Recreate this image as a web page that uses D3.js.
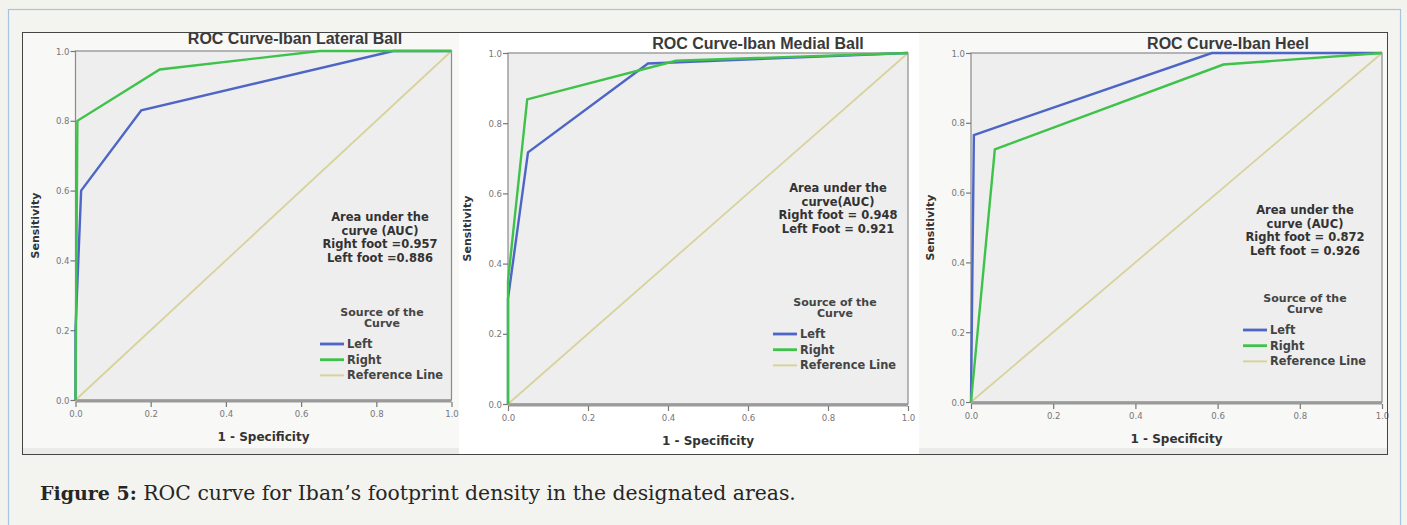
<!DOCTYPE html>
<html>
<head>
<meta charset="utf-8">
<script src="https://cdn.jsdelivr.net/npm/d3@7"></script>
<style>
  body { margin: 0; background: #f3f3ee; }
  svg text { font-family: "DejaVu Sans", sans-serif; }
</style>
</head>
<body>
<div id="chart"></div>
<script>
// ---- data ----
var titles = [
  "ROC Curve-Iban Lateral Ball",
  "ROC Curve-Iban Medial Ball",
  "ROC Curve-Iban Heel"
];

// [1 - specificity, sensitivity]
var lateralLeft  = [[0, 0], [0, 0.2], [0.015, 0.6], [0.175, 0.83], [0.845, 1], [1, 1]];
var lateralRight = [[0, 0], [0.005, 0.8], [0.224, 0.947], [0.65, 1], [1, 1]];
var medialLeft   = [[0, 0], [0, 0.3], [0.05, 0.717], [0.35, 0.97], [1, 1]];
var medialRight  = [[0, 0], [0, 0.35], [0.048, 0.868], [0.42, 0.978], [1, 1]];
var heelLeft     = [[0, 0], [0.007, 0.765], [0.586, 1], [1, 1]];
var heelRight    = [[0, 0], [0.058, 0.724], [0.614, 0.967], [1, 1]];
var referenceLine = [[0, 0], [1, 1]];

var aucText = [
  ["Area under the", "curve (AUC)", "Right foot =0.957", "Left foot =0.886"],
  ["Area under the", "curve(AUC)", "Right foot = 0.948", "Left Foot = 0.921"],
  ["Area under the", "curve (AUC)", "Right foot = 0.872", "Left foot = 0.926"]
];

var tickValues = [0, 0.2, 0.4, 0.6, 0.8, 1.0];
var legendNames = ["Left", "Right", "Reference Line"];
var seriesColors = ["#4d66c6", "#3ec24a", "#d8d29c"];

// ---- layout (pixel boxes for each panel) ----
var layout = [
  { bx: 23,  bw: 436, x0: 75.5, x1: 451.5, yTop: 51, yBot: 400, auc: [380, 217], leg: [320, 312], titleY: 44, titleX: 295 },
  { bx: 459, bw: 460, x0: 508,  x1: 908,   yTop: 53, yBot: 404, auc: [838, 188], leg: [773, 302], titleY: 49, titleX: 758 },
  { bx: 919, bw: 468, x0: 971,  x1: 1382,  yTop: 53, yBot: 402, auc: [1305, 210], leg: [1243, 298], titleY: 49, titleX: 1228 }
];
var bgs = ["#f8f8f7", "#ffffff", "#f8f8f7"];
var curves = [
  [lateralLeft, lateralRight],
  [medialLeft, medialRight],
  [heelLeft, heelRight]
];

var W = 1407, H = 525;

var svg = d3.select("#chart")
  .append("svg")
  .attr("width", W)
  .attr("height", H);

// page frame
svg.append("rect")
  .attr("x", 0).attr("y", 0).attr("width", W).attr("height", H)
  .attr("fill", "#f3f3ee");
svg.append("rect")
  .attr("x", 8.5).attr("y", 9.5).attr("width", 1392).attr("height", 530)
  .attr("fill", "#f3f4ef")
  .attr("stroke", "#a7c2e2")
  .attr("stroke-width", 1.2);

// figure box
svg.append("rect")
  .attr("x", 22.5).attr("y", 32.5).attr("width", 1365).attr("height", 422)
  .attr("fill", "#ffffff");

layout.forEach(function(L, i) {
  var g = svg.append("g");

  g.append("rect")
    .attr("x", L.bx).attr("y", 33).attr("width", L.bw).attr("height", 421)
    .attr("fill", bgs[i]);
  if (i != 1) {
    g.append("rect")
      .attr("x", L.bx).attr("y", 448).attr("width", L.bw).attr("height", 6)
      .attr("fill", "#ebebe8");
  }

  var x = d3.scaleLinear().domain([0, 1]).range([L.x0, L.x1]);
  var y = d3.scaleLinear().domain([0, 1]).range([L.yBot, L.yTop]);

  // plot area
  g.append("rect")
    .attr("x", L.x0).attr("y", L.yTop)
    .attr("width", L.x1 - L.x0).attr("height", L.yBot - L.yTop)
    .attr("fill", "#eeeeee")
    .attr("stroke", "#8a8a8a")
    .attr("stroke-width", 1.2);
  g.append("line")
    .attr("x1", L.x0).attr("x2", L.x1)
    .attr("y1", L.yBot + 1).attr("y2", L.yBot + 1)
    .attr("stroke", "#9a9a9a").attr("stroke-width", 3);

  // axes
  var yAxis = d3.axisLeft(y).tickValues(tickValues).tickSize(5).tickFormat(d3.format(".1f"));
  var xAxis = d3.axisBottom(x).tickValues(tickValues).tickSize(5).tickFormat(d3.format(".1f"));

  var ya = g.append("g")
    .attr("transform", "translate(" + L.x0 + ",0)")
    .call(yAxis);
  var xa = g.append("g")
    .attr("transform", "translate(0," + (L.yBot + 2) + ")")
    .call(xAxis);
  [ya, xa].forEach(function(a) {
    a.select(".domain").remove();
    a.selectAll(".tick line").attr("stroke", "#777").attr("stroke-width", 1.2);
    a.selectAll(".tick text")
      .attr("fill", "#777")
      .style("font-size", "9.5px")
      .style("font-family", "'DejaVu Sans Condensed', 'DejaVu Sans', sans-serif");
  });
  ya.selectAll(".tick text").attr("x", -6);
  xa.selectAll(".tick text").attr("y", 8);

  // reference line + curves
  var line = d3.line()
    .x(function(d) { return x(d[0]); })
    .y(function(d) { return y(d[1]); });

  g.append("path")
    .datum(referenceLine)
    .attr("d", line)
    .attr("fill", "none")
    .attr("stroke", seriesColors[2])
    .attr("stroke-width", 1.8);

  curves[i].forEach(function(c, k) {
    g.append("path")
      .datum(c)
      .attr("d", line)
      .attr("fill", "none")
      .attr("stroke", seriesColors[k])
      .attr("stroke-width", 2.4)
      .attr("stroke-linejoin", "miter");
  });

  // titles
  g.append("text")
    .text(titles[i])
    .attr("x", L.titleX)
    .attr("y", L.titleY)
    .attr("text-anchor", "middle")
    .attr("fill", "#3a3a3a")
    .style("font-family", "'Liberation Sans', Arial, sans-serif")
    .style("font-weight", "bold")
    .style("font-size", "16px");

  g.append("text")
    .text("Sensitivity")
    .attr("transform", "translate(" + (L.x0 - 37) + "," + ((L.yTop + L.yBot) / 2) + ") rotate(-90)")
    .attr("text-anchor", "middle")
    .attr("fill", "#333")
    .style("font-weight", "bold")
    .style("font-size", "11px");

  g.append("text")
    .text("1 - Specificity")
    .attr("x", x(0.5))
    .attr("y", L.yBot + 41)
    .attr("text-anchor", "middle")
    .attr("fill", "#333")
    .style("font-weight", "bold")
    .style("font-size", "12px");

  // AUC annotation
  g.selectAll(".auc")
    .data(aucText[i])
    .enter()
    .append("text")
    .attr("class", "auc")
    .text(function(d) { return d; })
    .attr("x", L.auc[0])
    .attr("y", function(d, j) { return L.auc[1] + 4 + j * 13.5; })
    .attr("text-anchor", "middle")
    .attr("fill", "#333")
    .style("font-weight", "bold")
    .style("font-size", "11.5px");

  // legend
  var lx = L.leg[0], ly = L.leg[1];
  g.append("text")
    .text("Source of the")
    .attr("x", lx + 62).attr("y", ly + 4)
    .attr("text-anchor", "middle")
    .attr("fill", "#444")
    .style("font-weight", "bold")
    .style("font-size", "11px");
  g.append("text")
    .text("Curve")
    .attr("x", lx + 62).attr("y", ly + 15)
    .attr("text-anchor", "middle")
    .attr("fill", "#444")
    .style("font-weight", "bold")
    .style("font-size", "11px");

  legendNames.forEach(function(name, k) {
    var yy = ly + 32 + k * 15.7;
    g.append("line")
      .attr("x1", lx).attr("x2", lx + 24)
      .attr("y1", yy).attr("y2", yy)
      .attr("stroke", seriesColors[k])
      .attr("stroke-width", k == 2 ? 2 : 2.8);
    g.append("text")
      .text(name)
      .attr("x", lx + 27).attr("y", yy + 4)
      .attr("fill", "#444")
      .style("font-weight", "bold")
      .style("font-size", "11.4px");
  });
});

// figure box border
svg.append("rect")
  .attr("x", 22.5).attr("y", 32.5).attr("width", 1365).attr("height", 422)
  .attr("fill", "none")
  .attr("stroke", "#444")
  .attr("stroke-width", 1);

// caption
var cap = svg.append("text")
  .attr("x", 40)
  .attr("y", 500)
  .attr("fill", "#262626")
  .style("font-family", "'DejaVu Serif', serif");
cap.append("tspan").style("font-weight", "bold").style("font-size", "19px").text("Figure 5:");
cap.append("tspan").style("font-size", "20.4px").text(" ROC curve for Iban\u2019s footprint density in the designated areas.");
</script>
</body>
</html>
